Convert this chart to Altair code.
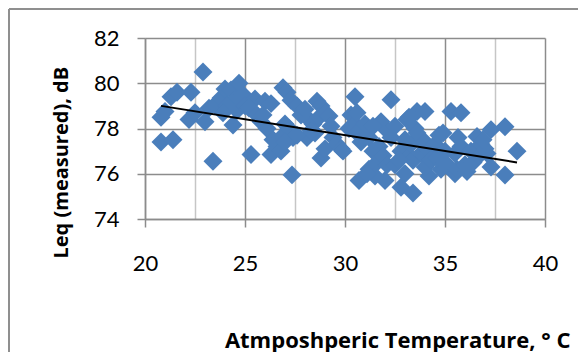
import altair as alt
import pandas as pd

# Scatter data: atmospheric temperature (°C) vs measured Leq (dB)
temp = [
    20.8, 21.0, 20.8, 21.4, 21.3, 21.6, 22.3, 22.2, 22.5, 22.9, 23.0, 23.4,
    23.2, 23.5, 23.8, 24.0, 24.3, 24.7, 24.4, 24.5, 24.1, 24.9, 23.9, 24.6, 25.0,
    25.3, 25.5, 25.2, 25.6, 26.0, 26.3, 25.8, 26.1, 26.4, 26.3, 26.6, 26.8, 26.9,
    27.1, 27.3, 27.0, 27.2, 27.4, 27.35, 26.8, 27.0, 25.9,
    27.6, 27.8, 28.0, 28.2, 28.1, 28.4, 28.6, 28.8, 28.7, 29.0, 29.2, 28.8, 29.0,
    28.5, 29.4, 29.6, 29.8, 29.9, 27.6, 28.3, 29.3,
    30.5, 30.3, 30.5, 30.6, 30.2, 30.6, 30.8, 31.0, 31.2, 31.4, 30.7, 31.2, 31.5,
    31.6, 31.8, 31.7, 32.0, 31.9, 32.1, 32.0, 31.4, 31.1,
    32.3, 32.5, 32.3, 32.8, 32.5, 33.0, 32.8, 33.2, 33.3, 33.1, 33.2, 33.5, 33.6,
    33.6, 33.4, 33.4, 33.8, 34.0, 34.2, 34.2, 34.0, 32.7, 33.0, 34.0,
    34.3, 34.5, 34.7, 34.9, 35.0, 35.1, 34.8, 35.5, 35.6, 35.3, 35.8, 35.65, 35.8,
    35.5, 36.0, 36.1, 36.3, 36.4, 34.6, 35.0,
    36.6, 36.8, 36.7, 37.0, 37.3, 37.3, 38.0, 38.0, 38.6, 36.9, 37.1,
]
leq = [
    78.5, 78.75, 77.4, 77.5, 79.4, 79.6, 79.6, 78.4, 78.7, 80.5, 78.3, 76.55,
    78.9, 79.05, 79.35, 79.75, 79.7, 80.0, 78.15, 79.25, 79.0, 79.5, 78.7, 78.8, 79.0,
    76.85, 79.3, 78.9, 78.6, 79.2, 79.1, 78.3, 78.0, 77.5, 76.85, 77.2, 77.6, 79.8,
    79.6, 79.25, 78.2, 78.0, 77.6, 75.95, 77.0, 77.4, 78.6,
    79.0, 78.6, 78.85, 78.4, 77.6, 78.2, 79.2, 79.0, 78.5, 78.7, 78.55, 76.7, 77.1,
    77.8, 77.6, 77.3, 77.1, 77.0, 77.7, 77.9, 78.1,
    79.4, 78.6, 78.2, 78.7, 78.0, 77.8, 77.4, 78.2, 77.6, 77.0, 75.7, 76.2, 75.9,
    76.5, 78.3, 77.2, 78.0, 76.8, 76.4, 75.7, 78.1, 76.0,
    79.27, 78.1, 77.6, 77.0, 76.4, 76.0, 75.4, 76.8, 77.3, 78.4, 78.5, 78.0, 78.75,
    77.8, 75.15, 76.6, 76.9, 77.4, 77.0, 75.9, 76.3, 76.6, 77.5, 78.75,
    76.6, 77.3, 77.7, 77.8, 77.0, 76.4, 76.2, 76.0, 76.2, 78.75, 78.7, 77.6, 77.2,
    76.9, 76.4, 76.1, 77.0, 76.5, 76.7, 76.5,
    77.65, 77.3, 76.8, 77.1, 77.95, 76.3, 78.08, 75.94, 77.0, 77.5, 76.9,
]

# Linear trendline end points
trend_temp = [20.8, 38.6]
trend_leq = [79.0, 76.5]

# Axis tick values (majors labelled, minors as light gridlines)
x_ticks = [20, 22.5, 25, 27.5, 30, 32.5, 35, 37.5, 40]
y_ticks = [74, 74.5, 75, 75.5, 76, 76.5, 77, 77.5, 78, 78.5, 79, 79.5,
           80, 80.5, 81, 81.5, 82]

LABEL_FONT = "Lato"
TITLE_FONT = "Open Sans"
MAJOR = "#8c8c8c"
MINOR = "#c6c6c6"

df = pd.DataFrame({"temp": temp, "leq": leq})
trend_df = pd.DataFrame({"temp": trend_temp, "leq": trend_leq})
one = pd.DataFrame({"k": [0]})

x_scale = alt.Scale(domain=[20, 40], nice=False, zero=False)
y_scale = alt.Scale(domain=[74, 82], nice=False, zero=False)

x_axis = alt.Axis(
    values=x_ticks,
    title="Atmposhperic Temperature, ° C",
    grid=True,
    gridColor={"condition": {"test": "datum.value % 5 == 0", "value": MAJOR}, "value": MINOR},
    tickOpacity={"condition": {"test": "datum.value % 5 == 0", "value": 1}, "value": 0},
    labelExpr="datum.value % 5 == 0 ? format(datum.value, 'd') : ''",
    labelFlush=False,
    labelBaseline="alphabetic",
    labelPadding=43,
    titleFontSize=22,
    titleX=425,
    titleY=128,
    titleAlign="right",
    titleBaseline="alphabetic",
)
y_axis = alt.Axis(
    values=y_ticks,
    title="Leq (measured), dB",
    grid=True,
    gridColor={"condition": {"test": "datum.value % 2 == 0", "value": MAJOR}, "value": MINOR},
    tickOpacity={"condition": {"test": "datum.value % 2 == 0", "value": 1}, "value": 0},
    labelExpr="datum.value % 2 == 0 ? format(datum.value, 'd') : ''",
    labelFlush=False,
    labelPadding=18,
    titleFontSize=20,
    titleAngle=270,
    titleX=-78,
    titleY=220,
    titleAlign="left",
    titleBaseline="alphabetic",
)

points = alt.Chart(df).mark_point(
    shape="diamond", filled=True, size=360, color="#4a7ebb", opacity=1, strokeWidth=0
).encode(
    x=alt.X("temp:Q", scale=x_scale, axis=x_axis),
    y=alt.Y("leq:Q", scale=y_scale, axis=y_axis),
)

trend = alt.Chart(trend_df).mark_line(color="black", strokeWidth=2).encode(
    x=alt.X("temp:Q", scale=x_scale),
    y=alt.Y("leq:Q", scale=y_scale),
)

frame_left = alt.Chart(one).mark_rule(color="#8f8f8f", strokeWidth=2).encode(
    x=alt.value(-136), y=alt.value(-29), y2=alt.value(330)
)
frame_top = alt.Chart(one).mark_rule(color="#8f8f8f", strokeWidth=2).encode(
    x=alt.value(-136), x2=alt.value(450), y=alt.value(-29)
)

chart = alt.layer(points, trend, frame_left, frame_top).properties(
    width=400,
    height=181,
    autosize=alt.AutoSizeParams(type="none"),
    padding={"left": 137, "top": 30, "right": 33, "bottom": 133},
    background="white",
).configure_axis(
    labelFont=LABEL_FONT,
    labelFontSize=22,
    labelColor="black",
    titleFont=TITLE_FONT,
    titleFontWeight="bold",
    titleColor="black",
    tickColor=MAJOR,
    tickSize=8,
    tickWidth=1.5,
    gridWidth=1.5,
    domainColor=MAJOR,
    domainWidth=1.5,
).configure_view(stroke="transparent")

chart.save("out.html", embed_options={"renderer": "svg", "actions": False})
